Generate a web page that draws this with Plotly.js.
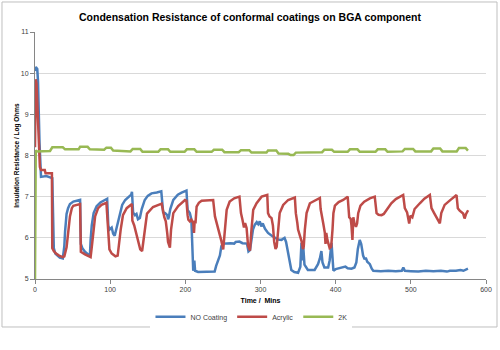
<!DOCTYPE html>
<html>
<head>
<meta charset="utf-8">
<script src="https://cdn.plot.ly/plotly-3.0.1.min.js"></script>
<style>html,body{margin:0;padding:0;background:#fff;}#chart{width:500px;height:350px;}</style>
</head>
<body>
<div id="chart"></div>
<script>
// NO Coating (time in mins, log ohms)
const blueT = [0,1,3,4,6,7,8,15,21,23,24,25,27,30,33,37,39,40,42,44,46.5,51,55,60,61,63,66.5,71,73,74,75.5,78,82,87,93,96,97.5,99,102,104,106,108,110,113,116,120,125,128,129,130.5,133,135,137,139.5,142,146,150,155,162,168,170.5,173,176,177,178,180,184,190,195,201.5,203,206,208,209.5,210.5,212,213,217,239,241,244,246,248,251,260,265,267,272,276,282,284,286,288,290,292.5,295,297,299,301,303,306,310,315,319,323.5,328,332,334,336.5,338.5,341,345,350,353,354.5,356,357,358.5,363,372,376.5,379,381,382.5,385,390,392,394.5,396,397,400,405,410,413,416,421,425,427.5,429.5,432,434,436.5,438.5,440,442,445.5,448,450,460,470,480,488,490,492,500,510,520,530,540,548,552,560,566,570,576];
const blueV = [10.05,10.15,10.1,9.8,8.3,7.55,7.48,7.5,7.47,7.45,6.6,5.75,5.62,5.56,5.52,5.5,5.8,6.15,6.58,6.72,6.82,6.88,6.9,6.92,5.85,5.75,5.66,5.58,5.56,5.95,6.3,6.6,6.77,6.86,6.92,6.95,6.3,6.2,6.25,6.1,6.05,6.2,6.4,6.62,6.8,6.92,7.0,7.05,7.12,6.62,6.55,6.58,6.45,6.48,6.7,6.92,7.02,7.08,7.1,7.13,6.62,6.6,6.55,6.45,6.5,6.7,6.92,7.05,7.1,7.15,6.68,6.6,6.45,5.5,5.2,5.45,5.2,5.17,5.18,5.32,5.48,5.57,5.8,5.86,5.87,5.86,5.9,5.91,5.87,5.86,5.67,5.7,5.95,6.2,6.32,6.38,6.33,6.4,6.28,6.35,6.22,6.12,6.05,6.0,5.96,5.95,6.0,5.9,5.64,5.4,5.22,5.17,5.15,5.3,5.88,5.45,5.75,5.35,5.22,5.22,5.36,5.5,5.68,5.4,5.28,5.28,5.45,5.88,5.3,5.2,5.24,5.26,5.27,5.3,5.26,5.25,5.28,5.4,5.73,5.95,5.85,5.57,5.48,5.52,5.42,5.36,5.25,5.2,5.19,5.2,5.19,5.2,5.28,5.2,5.19,5.18,5.2,5.19,5.2,5.18,5.2,5.2,5.22,5.2,5.25];

// Acrylic
const redT = [0,1,2,3.5,5,6.5,8,13,14,22.5,23,25,28,32,37,39,42,44,46.5,49,51,60,61,66.5,71,74,75.5,78,80,84,88.5,95,96.5,97.5,99,102,107,110,112,114,117,122,129,129.5,132,134,136.5,140,142.5,144,146,149,157,168.5,172,174,176,177,179.5,181,184,190.5,199.5,201.5,203,204,206,208,210.5,211.5,212.5,213.5,215,218,221.7,237,239.4,242,244,246,248,250.4,252.5,255,259,265,272,274,276,278,279.5,281.5,283.5,286,288,290.3,294.8,298,301.5,309,310,312,314.7,316.5,318.2,320,321.5,323.6,325.5,330.2,336.8,345.7,347,349,350,352,354.6,356.5,357.5,359,361.3,365.7,372,379,380,381,383.5,385.6,386.5,387.5,389,392,394,395.8,397,399,404,410,416,418,420,421,422.3,423.5,425,427,428.5,430,433,438,445.5,452,454.4,457,461,464,467.7,474,480,489.8,492,495,497.8,499.5,502,505,512,518,525.3,527.5,531,535,538.6,540.5,545,552,560.8,562.5,565,569.6,571.5,573.5,576.2];
const redV = [8.2,9.85,9.75,9.0,8.2,7.72,7.65,7.65,7.57,7.57,5.75,5.68,5.62,5.57,5.53,5.55,5.77,6.14,6.52,6.72,6.78,6.82,5.66,5.6,5.55,5.53,5.77,6.15,6.52,6.72,6.8,6.85,6.45,6.0,5.72,5.62,5.55,5.57,5.9,6.2,6.55,6.72,6.82,6.42,6.3,6.15,5.92,5.72,5.68,5.9,6.2,6.59,6.75,6.83,6.5,6.4,6.1,5.9,5.76,6.2,6.6,6.77,6.92,6.9,6.55,6.44,6.4,6.44,6.36,6.12,6.42,6.35,6.76,6.85,6.9,6.92,6.52,6.35,6.2,6.08,5.92,5.72,6.2,6.68,6.88,6.96,7.0,6.6,6.44,6.25,6.36,6.24,5.8,5.69,6.2,6.68,6.84,6.92,7.0,7.04,6.6,6.52,6.48,6.3,5.9,5.73,5.78,6.2,6.6,6.8,6.92,6.98,6.6,6.36,6.2,6.08,5.92,5.73,5.78,6.2,6.6,6.84,6.9,6.97,6.7,6.56,6.35,6.12,5.85,6.12,5.95,5.75,5.78,6.2,6.6,6.78,6.87,6.92,7.0,6.5,6.46,6.3,5.95,6.5,6.35,6.27,6.35,6.6,6.78,6.88,6.96,7.0,6.6,6.56,6.55,6.58,6.67,6.84,6.94,7.04,6.72,6.62,6.35,6.54,6.5,6.7,6.84,6.95,7.04,6.72,6.6,6.45,6.35,6.6,6.8,6.91,7.04,6.72,6.66,6.59,6.47,6.58,6.67];

// 2K
const greenT = [0,1,2,20,23,37,40,58,60,70,73,92,95,101,104,127,130,140,143,164,167,177,180,199,202,212,215,235,238,249,252,271,274,285,288,308,310,321,324,337,340,344,347,357,360,382,385,395,398,416,419,429,432,453,456,466,469,489,492,503,506,527,530,539,542,561,564,573,576];
const greenV = [5.0,8.13,8.1,8.11,8.2,8.2,8.15,8.15,8.21,8.21,8.15,8.14,8.19,8.19,8.12,8.1,8.16,8.16,8.09,8.09,8.15,8.15,8.09,8.09,8.15,8.15,8.09,8.09,8.14,8.14,8.08,8.08,8.13,8.13,8.07,8.07,8.12,8.12,8.05,8.04,8.01,8.01,8.07,8.07,8.08,8.08,8.14,8.14,8.09,8.09,8.15,8.15,8.09,8.09,8.15,8.15,8.09,8.1,8.16,8.16,8.1,8.1,8.17,8.17,8.1,8.1,8.18,8.18,8.12];

const seriesNames = ['NO Coating', 'Acrylic', '2K'];
const seriesColors = ['#4a7ebb', '#be4b48', '#98b954'];

const traces = [
  {x: blueT, y: blueV, name: seriesNames[0], type: 'scatter', mode: 'lines', line: {color: seriesColors[0], width: 2.5}},
  {x: redT, y: redV, name: seriesNames[1], type: 'scatter', mode: 'lines', line: {color: seriesColors[1], width: 2.5}},
  {x: greenT, y: greenV, name: seriesNames[2], type: 'scatter', mode: 'lines', line: {color: seriesColors[2], width: 2.5}}
];

const FONT = 'Liberation Sans, Arial, sans-serif';
const layout = {
  width: 500, height: 350,
  margin: {l: 35, r: 14, t: 32, b: 71},
  paper_bgcolor: '#ffffff', plot_bgcolor: '#ffffff',
  font: {family: FONT, size: 7, color: '#404040'},
  title: {text: 'Condensation Resistance of conformal coatings on BGA component',
          font: {family: FONT, size: 10.5, color: '#000000', weight: 'bold'},
          x: 0.5, xref: 'container', y: 0.951, yref: 'container', yanchor: 'middle'},
  xaxis: {range: [0, 600], dtick: 100, tick0: 0, showgrid: false, zeroline: false,
          showline: true, linecolor: '#868686', linewidth: 1,
          ticks: 'outside', ticklen: 4, tickcolor: '#868686',
          tickfont: {family: FONT, size: 7, color: '#404040'},
          title: {text: 'Time /  Mins', font: {family: FONT, size: 7, color: '#000000', weight: 'bold'}, standoff: 5}},
  yaxis: {range: [5, 11], dtick: 1, tick0: 5, showgrid: true, gridcolor: '#d9d9d9', gridwidth: 1, zeroline: false,
          showline: true, linecolor: '#868686', linewidth: 1,
          ticks: 'outside', ticklen: 4, tickcolor: '#868686',
          tickfont: {family: FONT, size: 7, color: '#404040'},
          title: {text: 'Insulation Resistance / Log Ohms', font: {family: FONT, size: 6.5, color: '#000000', weight: 'bold'}, standoff: 0}},
  showlegend: true,
  legend: {orientation: 'h', x: 0.48, xanchor: 'center', y: -0.153, yanchor: 'middle',
           font: {family: FONT, size: 7, color: '#404040'}, itemwidth: 30, tracegroupgap: 0},
  shapes: [{type: 'rect', xref: 'paper', yref: 'paper', x0: -0.0732, x1: 1.0244, y0: -0.1943, y1: 1.1215,
            line: {color: '#bfbfbf', width: 1}, fillcolor: 'rgba(0,0,0,0)', layer: 'below'}]
};

Plotly.newPlot('chart', traces, layout, {displayModeBar: false, staticPlot: true});
</script>
</body>
</html>
